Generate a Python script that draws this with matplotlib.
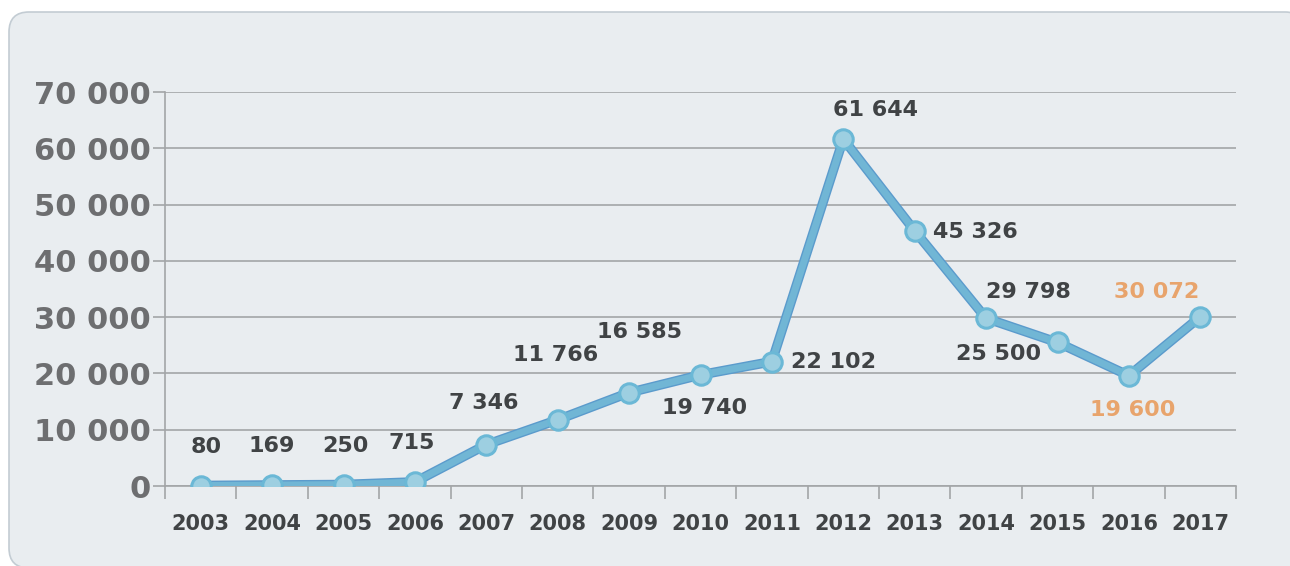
import matplotlib
matplotlib.use("Agg")
import matplotlib.pyplot as plt
import matplotlib.patheffects as pe
from matplotlib.patches import FancyBboxPatch
from matplotlib.ticker import FixedLocator, FuncFormatter

# data
years = ["2003", "2004", "2005", "2006", "2007", "2008", "2009", "2010",
         "2011", "2012", "2013", "2014", "2015", "2016", "2017"]
values = [80, 169, 250, 715, 7346, 11766, 16585, 19740,
          22102, 61644, 45326, 29798, 25500, 19600, 30072]
labels = ["80", "169", "250", "715", "7 346", "11 766", "16 585", "19 740",
          "22 102", "61 644", "45 326", "29 798", "25 500", "19 600", "30 072"]
highlight = ["2016", "2017"]

# label offsets in pixels (dx, dy) from each point
offsets = [(5, 39), (0, 39), (2, 39), (-3, 39), (-3, 42), (-2, 65), (10, 61),
           (4, -33), (62, 0), (32, 29), (61, -1), (42, 26), (-59, -12),
           (4, -34), (-44, 25)]

FONT = "DejaVu Sans"
DARK = "#404345"
GREY = "#6d6e70"
ORANGE = "#e8a46c"
GRID = "#a3a5a7"

fig = plt.figure(figsize=(12.9, 5.66), dpi=100)
fig.patch.set_facecolor("white")

# rounded panel behind the chart, drawn in pixel coords
bg = fig.add_axes([0, 0, 1, 1], zorder=-1)
bg.set_xlim(0, 1290)
bg.set_ylim(566, 0)
bg.axis("off")
bg.add_patch(FancyBboxPatch((9, 12), 1296, 556,
                            boxstyle="round,pad=0,rounding_size=20",
                            facecolor="#e9edf0", edgecolor="#c3ccd3",
                            linewidth=1.2))

ax = fig.add_axes([165 / 1290, 80 / 566, 1071 / 1290, 394 / 566])
ax.set_facecolor("none")

x = list(range(len(years)))
ax.plot(x, values, color="#71b6d5", lw=5, zorder=3,
        path_effects=[pe.Stroke(linewidth=7, foreground="#5b9bcc"), pe.Normal()])
ax.plot(x, values, ls="none", marker="o", ms=14, mfc="#9dcfe1",
        mec="#6bb8d6", mew=2.2, zorder=4)

for i, (v, lab) in enumerate(zip(values, labels)):
    col = ORANGE if years[i] in highlight else DARK
    ax.annotate(lab, (i, v), xytext=offsets[i], textcoords="offset pixels",
                ha="center", va="center", fontsize=16, fontweight="bold",
                color=col, family=FONT, zorder=5)

ax.set_xlim(-0.5, len(years) - 0.5)
ax.set_ylim(0, 70000)

ax.xaxis.set_major_locator(FixedLocator([i - 0.5 for i in range(len(years) + 1)]))
ax.xaxis.set_minor_locator(FixedLocator(x))
ax.set_xticklabels([])
ax.set_xticklabels(years, minor=True)
ax.tick_params(axis="x", which="major", length=9, width=1.2, color=GRID,
               direction="out")
ax.tick_params(axis="x", which="minor", length=0, pad=20, labelsize=15,
               labelcolor=DARK)
for t in ax.get_xticklabels(minor=True):
    t.set_fontweight("bold")
    t.set_family(FONT)

ax.set_yticks(range(0, 70001, 10000))
ax.yaxis.set_major_formatter(FuncFormatter(
    lambda v, p: "0" if v == 0 else f"{int(v):,}".replace(",", " ")))
ax.tick_params(axis="y", length=9, width=1.2, color=GRID, pad=1,
               labelsize=22, labelcolor=GREY)
for t in ax.get_yticklabels():
    t.set_fontweight("bold")
    t.set_family(FONT)

ax.grid(axis="y", color=GRID, lw=1.2)
ax.set_axisbelow(True)
for s in ["top", "right"]:
    ax.spines[s].set_visible(False)
for s in ["left", "bottom"]:
    ax.spines[s].set_color(GRID)
    ax.spines[s].set_linewidth(1.2)

fig.savefig("out.png", dpi=100)
